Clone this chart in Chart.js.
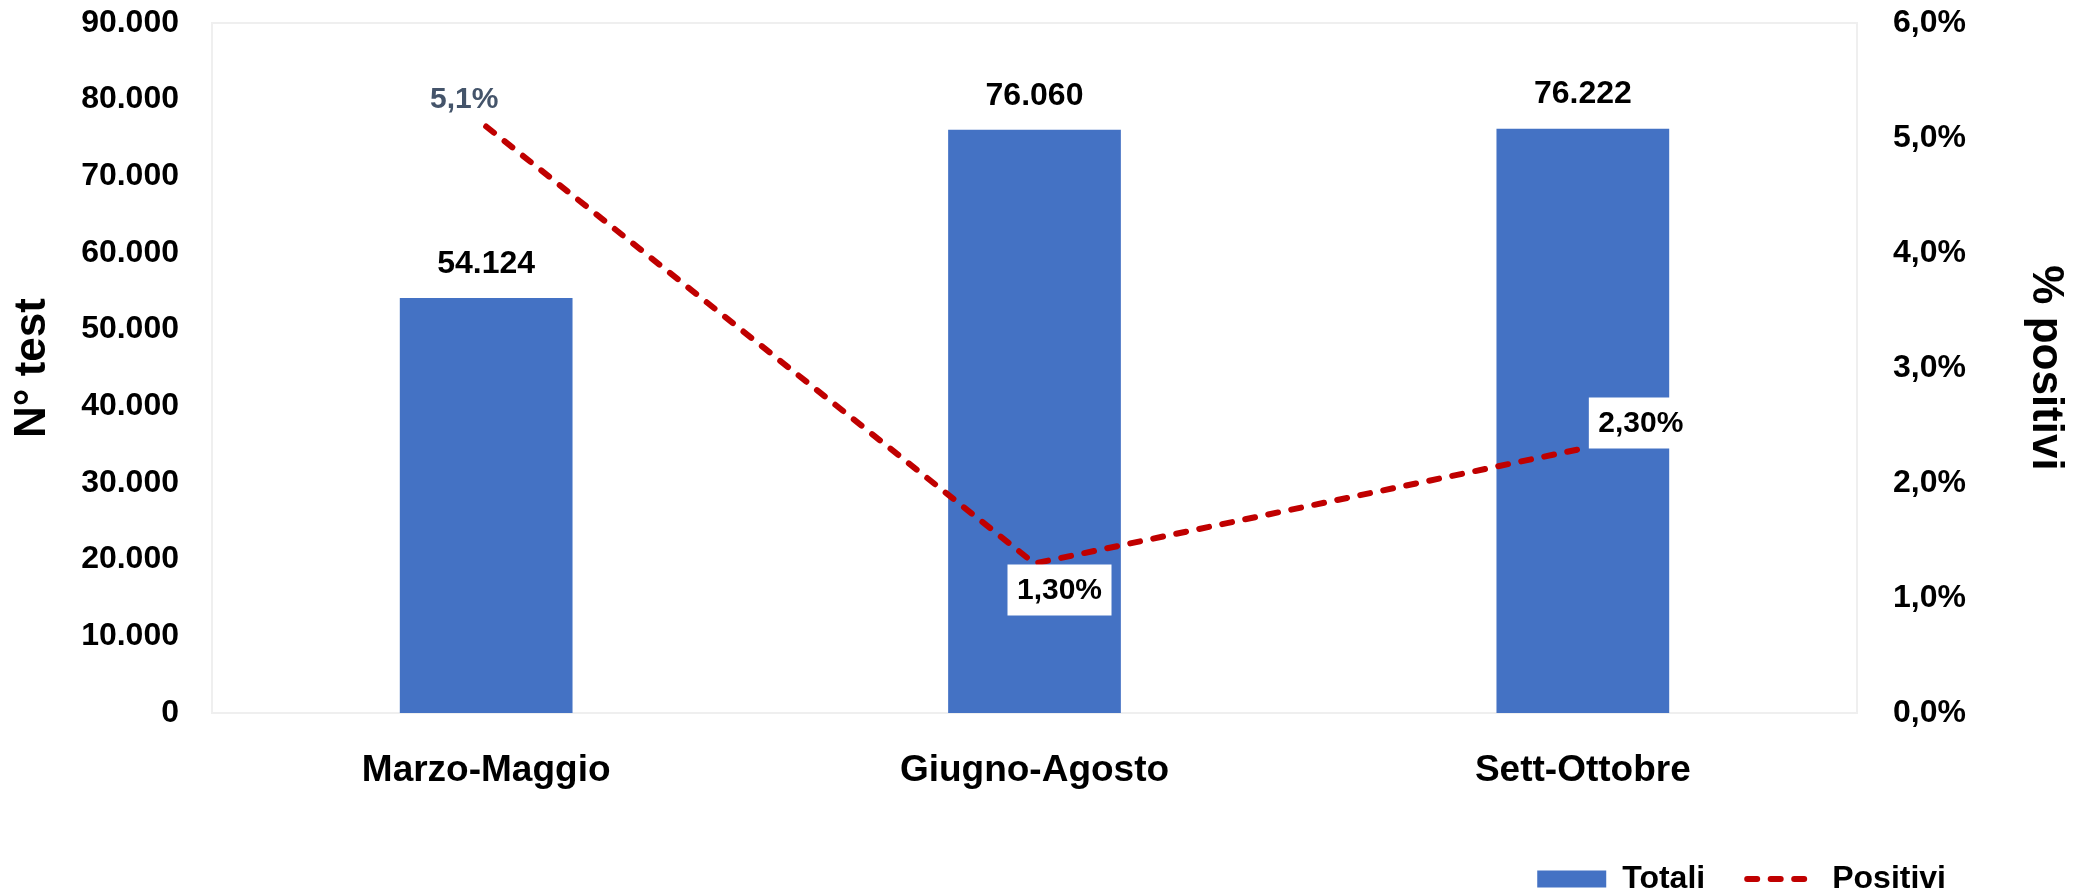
<!DOCTYPE html>
<html>
<head>
<meta charset="utf-8">
<script src="https://cdn.jsdelivr.net/npm/chart.js@4.4.1/dist/chart.umd.min.js"></script>
<style>
  html, body { margin: 0; padding: 0; background: #fff; }
  #wrap { width: 2082px; height: 895px; position: relative; }
</style>
</head>
<body>
<div id="wrap"><canvas id="grafico"></canvas></div>
<script>
// dati
const periodi = ['Marzo-Maggio', 'Giugno-Agosto', 'Sett-Ottobre'];
const totaliTest = [54124, 76060, 76222];
const positiviPct = [5.1, 1.3, 2.3];
const positiviDecimali = [1, 2, 2];
const serieNomi = ['Totali', 'Positivi'];

const coloreBarre = '#4472C4';
const coloreLinea = '#C00000';
const fontBase = '"Liberation Sans", Arial, sans-serif';

// posizione delle etichette della linea rispetto al punto
const posEtichette = [
    { dx: -22, dy: -27, box: false, color: '#44546A' },
    { dx: 25, dy: 27, box: true, color: '#000' },
    { dx: 58, dy: -25, box: true, color: '#000' }
];

function migliaia(v) {
    return String(Math.round(v)).replace(/\B(?=(\d{3})+(?!\d))/g, '.');
}
function percento(v, d) {
    return v.toFixed(d).replace('.', ',') + '%';
}

Chart.defaults.font.family = fontBase;
Chart.defaults.color = '#000';

// bordo grigio chiaro dell'area del grafico
const bordoArea = {
    id: 'bordoArea',
    beforeDatasetsDraw(chart) {
        const a = chart.chartArea;
        const ctx = chart.ctx;
        ctx.save();
        ctx.strokeStyle = '#EFEFEF';
        ctx.lineWidth = 2;
        ctx.strokeRect(a.left, a.top, a.right - a.left, a.bottom - a.top);
        ctx.restore();
    }
};

// etichette dei valori
const etichette = {
    id: 'etichette',
    afterDatasetsDraw(chart) {
        const ctx = chart.ctx;
        ctx.save();
        ctx.textAlign = 'center';
        ctx.textBaseline = 'middle';
        ctx.font = 'bold 32px ' + fontBase;
        chart.getDatasetMeta(0).data.forEach((bar, i) => {
            ctx.fillStyle = '#000';
            ctx.fillText(migliaia(totaliTest[i]), bar.x, bar.y - 34);
        });
        ctx.font = 'bold 30px ' + fontBase;
        chart.getDatasetMeta(1).data.forEach((pt, i) => {
            const o = posEtichette[i];
            const x = pt.x + o.dx, y = pt.y + o.dy;
            if (o.box) {
                ctx.fillStyle = '#fff';
                ctx.fillRect(x - 52, y - 26, 104, 51);
            }
            ctx.fillStyle = o.color;
            ctx.fillText(percento(positiviPct[i], positiviDecimali[i]), x, y);
        });
        ctx.restore();
    }
};

// legenda in basso a destra come nell'originale
const spostaLegenda = {
    id: 'spostaLegenda',
    afterLayout(chart) {
        const l = chart.legend;
        l.right = 1988;
        l.top += 10;
        l.bottom += 10;
    }
};

const ctx = document.getElementById('grafico').getContext('2d');
const grafico = new Chart(ctx, {
    data: {
        labels: periodi,
        datasets: [{
            type: 'bar',
            label: serieNomi[0],
            data: totaliTest,
            backgroundColor: coloreBarre,
            yAxisID: 'y',
            order: 2,
            categoryPercentage: 1,
            barPercentage: 0.315
        }, {
            type: 'line',
            label: serieNomi[1],
            data: positiviPct,
            borderColor: coloreLinea,
            borderWidth: 6,
            borderDash: [10, 13.5],
            borderCapStyle: 'round',
            pointRadius: 0,
            tension: 0,
            yAxisID: 'y1',
            order: 1
        }]
    },
    options: {
        responsive: true,
        maintainAspectRatio: false,
        animation: false,
        devicePixelRatio: 1,
        layout: { padding: 0 },
        scales: {
            x: {
                grid: { display: false, drawTicks: false },
                border: { color: '#D9D9D9', width: 2 },
                ticks: { padding: 36, color: '#000', font: { size: 37, weight: 'bold' } },
                afterFit(s) { s.height = 98; }
            },
            y: {
                position: 'left',
                min: 0,
                max: 90000,
                grid: { display: false, drawTicks: false },
                border: { color: '#EFEFEF', width: 2 },
                ticks: {
                    stepSize: 10000,
                    padding: 33,
                    color: '#000',
                    font: { size: 32, weight: 'bold' },
                    callback: (v) => migliaia(v)
                },
                title: {
                    display: true,
                    text: 'N° test',
                    color: '#000',
                    font: { size: 44, weight: 'bold', lineHeight: 1 },
                    padding: { top: 11, bottom: 0 }
                },
                afterFit(s) { s.width = 212; s.paddingTop = 23; }
            },
            y1: {
                position: 'right',
                min: 0,
                max: 6,
                grid: { display: false, drawTicks: false },
                border: { color: '#EFEFEF', width: 2 },
                ticks: {
                    stepSize: 1,
                    padding: 36,
                    color: '#000',
                    font: { size: 32, weight: 'bold' },
                    callback: (v) => percento(v, 1)
                },
                title: {
                    display: true,
                    text: '% positivi',
                    color: '#000',
                    font: { size: 44, weight: 'bold', lineHeight: 1 },
                    padding: { top: 15, bottom: 0 }
                },
                afterFit(s) { s.width = 225; s.paddingTop = 23; }
            }
        },
        plugins: {
            tooltip: { enabled: false },
            legend: {
                position: 'bottom',
                align: 'end',
                labels: {
                    color: '#000',
                    font: { size: 32, weight: 'bold' },
                    usePointStyle: true,
                    pointStyleWidth: 69,
                    boxHeight: 17,
                    padding: 42,
                    generateLabels: () => [{
                        text: serieNomi[0],
                        fillStyle: coloreBarre,
                        strokeStyle: coloreBarre,
                        lineWidth: 0,
                        pointStyle: 'rect',
                        fontColor: '#000',
                        datasetIndex: 0
                    }, {
                        text: serieNomi[1],
                        fillStyle: coloreLinea,
                        strokeStyle: coloreLinea,
                        lineWidth: 6,
                        lineDash: [10, 13.5],
                        lineCap: 'round',
                        pointStyle: 'line',
                        fontColor: '#000',
                        datasetIndex: 1
                    }]
                }
            }
        }
    },
    plugins: [bordoArea, etichette, spostaLegenda]
});
</script>
</body>
</html>
